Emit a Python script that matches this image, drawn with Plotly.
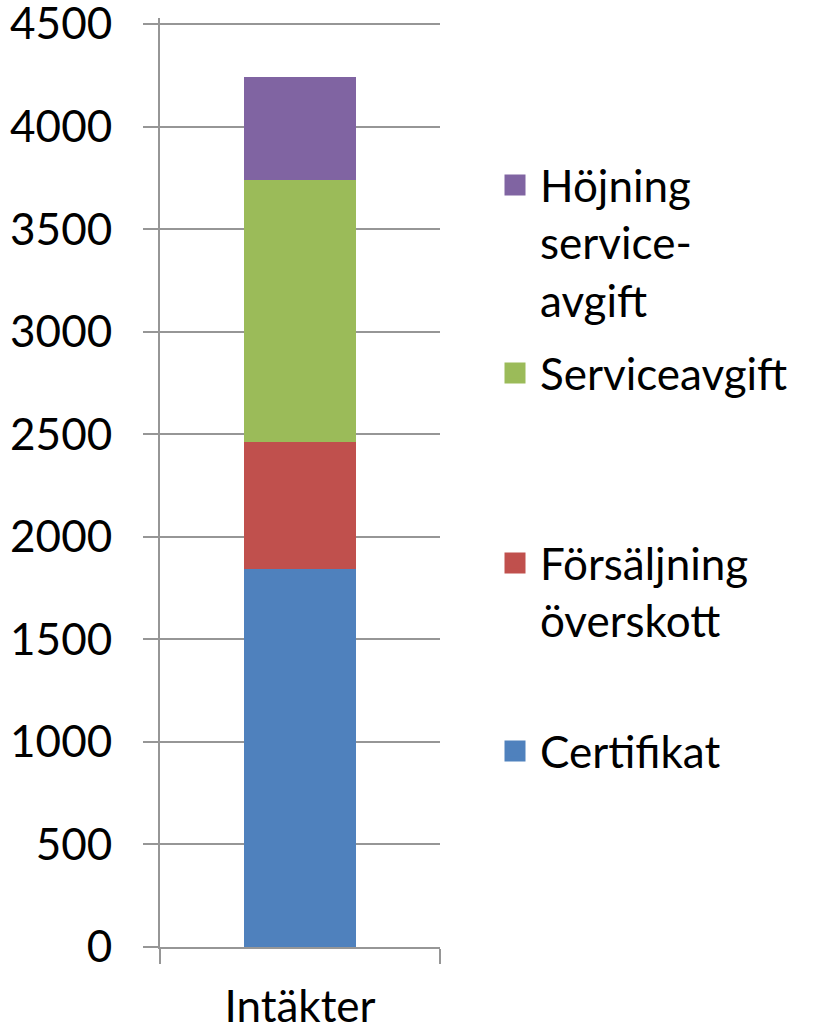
import plotly.graph_objects as go

categories = ["Intäkter"]
series_names = ["Certifikat", "Försäljning<br>överskott", "Serviceavgift", "Höjning<br>service-<br>avgift"]
certifikat = [1843]
forsaljning = [619]
serviceavgift = [1278]
hojning = [502]
y_ticks = [0, 500, 1000, 1500, 2000, 2500, 3000, 3500, 4000, 4500]

values = [certifikat, forsaljning, serviceavgift, hojning]
colors = ["#4F81BD", "#C0504D", "#9BBB59", "#8064A2"]
legend_ids = ["legend4", "legend3", "legend2", "legend"]

FONT = "Lato"
FS = 44
W, H = 813, 1031
HEAD = 6  # px of headroom above the 4500 line so its gridline is drawn
L, R, T, B = 160, 373, 24 - HEAD, 84
PW, PH = W - L - R, H - T - B
YMAX = 4500 * PH / (PH - HEAD)

fig = go.Figure()
for name, vals, col, lg in zip(series_names, values, colors, legend_ids):
    fig.add_trace(go.Bar(x=categories, y=vals, name=name, marker=dict(color=col, line=dict(width=0)),
                         width=0.4, showlegend=False, legendgroup=name))
    fig.add_trace(go.Scatter(x=[None], y=[None], mode="markers", name=name, legendgroup=name,
                             legend=lg, showlegend=True,
                             marker=dict(symbol="square", size=16, color=col,
                                         line=dict(color=col, width=5))))

def px2paper_x(px):
    return (px - L) / PW

def px2paper_y(py):
    return (H - B - py) / PH

legend_top_px = {"legend": 150, "legend2": 338, "legend3": 528, "legend4": 716}
leg_common = dict(font=dict(family=FONT, size=FS, color="#000000"), bgcolor="rgba(0,0,0,0)",
                  xanchor="left", yanchor="top", valign="top", itemwidth=40,
                  itemsizing="trace", borderwidth=0)

layout_legends = {}
for lg, top in legend_top_px.items():
    layout_legends[lg] = dict(x=px2paper_x(490), y=px2paper_y(top), **leg_common)

fig.update_layout(
    width=W, height=H,
    margin=dict(l=L, r=R, t=T, b=B, pad=0, autoexpand=False),
    paper_bgcolor="#FFFFFF", plot_bgcolor="#FFFFFF",
    barmode="stack",
    font=dict(family=FONT, size=FS, color="#000000"),
    **layout_legends,
)
fig.update_xaxes(type="category", range=[-0.5, 0.5], showline=True, linecolor="#969696", linewidth=2,
                 ticks="outside", ticklen=15, tickcolor="#969696", tickwidth=2, tickson="boundaries",
                 showgrid=False, tickfont=dict(family=FONT, size=FS), ticklabelstandoff=20,
                 automargin=False, ticklabeloverflow="allow")
fig.update_yaxes(range=[0, YMAX], tickvals=y_ticks, ticktext=[str(v) for v in y_ticks],
                 showline=True, linecolor="#969696", linewidth=2,
                 ticks="outside", ticklen=15, tickcolor="#969696", tickwidth=2,
                 showgrid=True, gridcolor="#969696", gridwidth=2, zeroline=False,
                 tickfont=dict(family=FONT, size=FS), ticklabelstandoff=22, automargin=False,
                 ticklabeloverflow="allow")

fig.write_html("out.html", config={"displayModeBar": False},
               post_script="document.body.style.margin='0';document.body.style.overflow='hidden';")
